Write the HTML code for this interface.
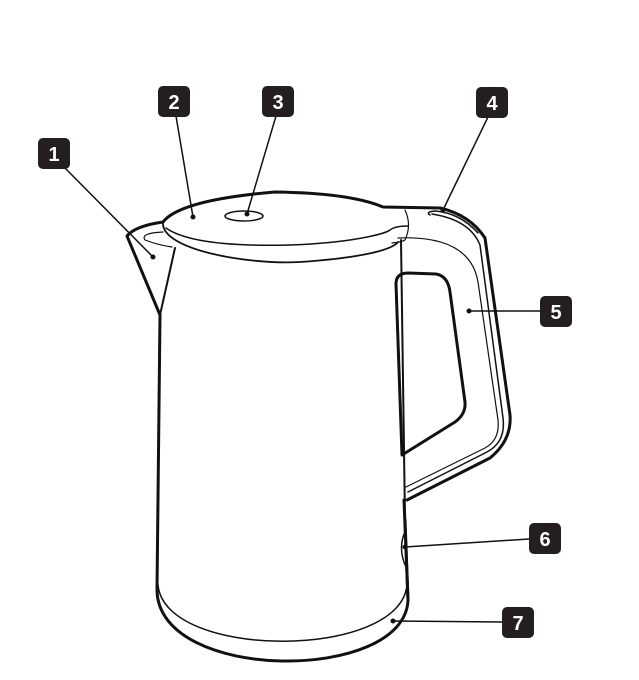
<!DOCTYPE html>
<html><head><style>
html,body{margin:0;padding:0;background:#fff;}
svg{display:block;}
text{font-family:"Liberation Sans",sans-serif;font-weight:bold;font-size:20px;fill:#fff;text-anchor:middle;}
</style></head><body>
<svg width="639" height="680" viewBox="0 0 639 680" xmlns="http://www.w3.org/2000/svg">
<g fill="none" stroke="#111" stroke-linecap="round" stroke-linejoin="round">
<path d="M160 315 L157 590 C158 683 405 683 408 600 L404 500" stroke-width="3"/>
<path d="M401 240 L405 520" stroke-width="2"/>
<path d="M405 520 L408 600" stroke-width="3"/>
<path d="M158 585 C165 660 400 660 407 585" stroke-width="1.5"/>
<path d="M405 532 Q398 547 405 565" stroke-width="1.5"/>
<path d="M163 222 Q135 226 127 236 L160 315" stroke-width="3"/>
<path d="M175 248 L160 315" stroke-width="2"/>
<path d="M163 232 Q140 233 145 240 Q158 245 172 247" stroke-width="1.2"/>
<path d="M163 222 Q180 200 275 192 Q350 193 383 207 L440 208" stroke-width="3"/>
<path d="M163 222 C160 250 250 265 300 262 C360 258 392 250 398 242" stroke-width="1.8"/>
<path d="M166 228 C190 245 250 246 290 245 C350 243 385 234 390 230 Q395 226 408 226" stroke-width="1.5"/>
<path d="M405 210 Q412 225 405 240 Q402 242 392 243" stroke-width="1.2"/>
<ellipse cx="244" cy="216" rx="19" ry="5" stroke-width="1.5"/>
<path d="M440 208 Q470 215 485 238 L510 415 Q512 440 490 458 L407 500" stroke-width="3"/>
<path d="M432 214 Q470 220 480 245 L503 418 Q506 442 487 452 L408 492" stroke-width="1.5"/>
<path d="M430 215 Q425 212 435 211 Q460 213 478 233" stroke-width="1.5"/>
<path d="M398 238 Q470 235 478 282 L498 420 Q500 440 485 448 L406 487" stroke-width="1.2"/>
<path d="M396 284 Q396 273 408 273 L436 274 Q448 276 450 292 L465 402 Q466 414 455 422 L402 455 Z" stroke-width="3"/>
<g stroke-width="1.5">
<path d="M65 168 L153 257"/><path d="M176 116 L193 217"/><path d="M276 116 L247 214"/>
<path d="M488 117 L443 210"/><path d="M540 311 L469 311"/><path d="M529 539 L405 547"/><path d="M502 622 L393 621"/>
</g>
</g>
<g fill="#111">
<circle cx="153" cy="257" r="2.5"/><circle cx="193" cy="217" r="2.5"/><circle cx="247" cy="214" r="2.5"/>
<circle cx="443" cy="210" r="2.5"/><circle cx="469" cy="311" r="2.5"/><circle cx="405" cy="547" r="2.5"/><circle cx="393" cy="621" r="2.5"/>
</g>
<g fill="#231f20">
<rect x="38" y="138" width="32" height="31" rx="5"/>
<rect x="158" y="86" width="32" height="31" rx="5"/>
<rect x="262" y="86" width="32" height="31" rx="5"/>
<rect x="476" y="87" width="32" height="31" rx="5"/>
<rect x="540" y="296" width="32" height="31" rx="5"/>
<rect x="529" y="523" width="32" height="31" rx="5"/>
<rect x="502" y="607" width="32" height="31" rx="5"/>
</g>
<text x="54" y="161">1</text><text x="174" y="109">2</text><text x="278" y="109">3</text>
<text x="492" y="110">4</text><text x="556" y="319">5</text><text x="545" y="546">6</text><text x="518" y="630">7</text>
</svg>
</body></html>
